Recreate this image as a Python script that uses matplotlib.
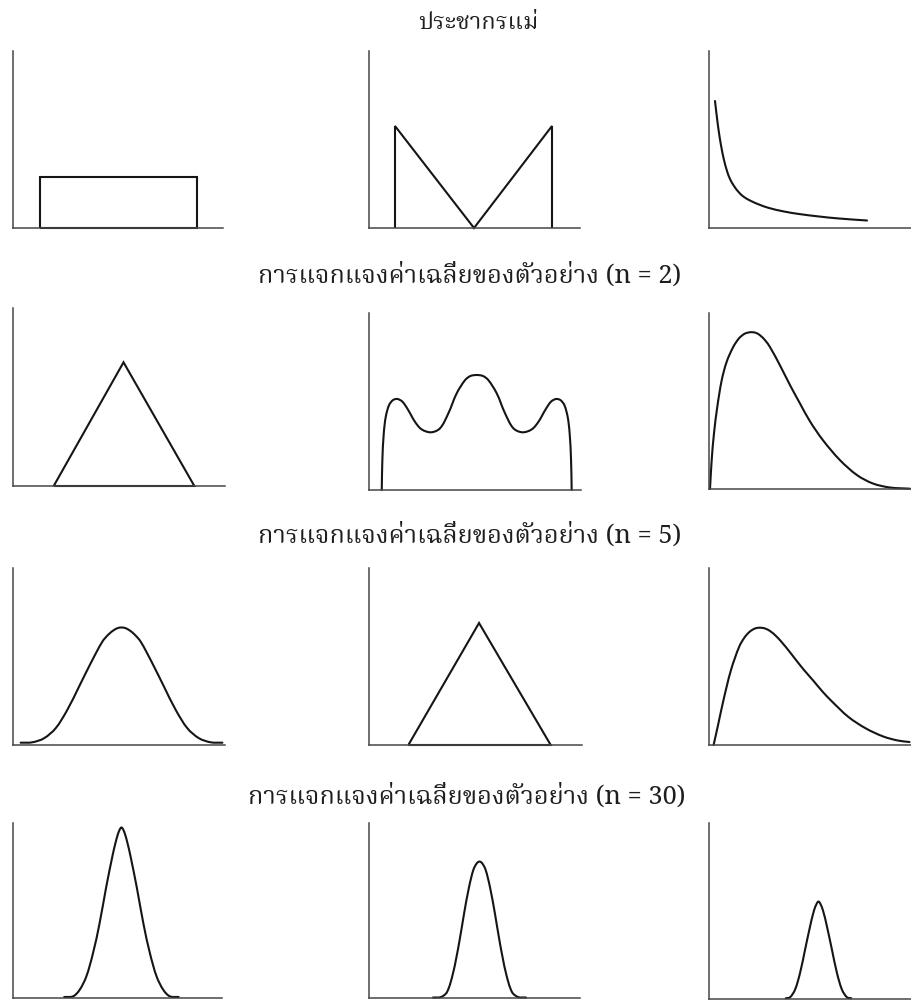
import numpy as np
import matplotlib
matplotlib.use("Agg")
import matplotlib.pyplot as plt
from matplotlib import font_manager, ft2font
from matplotlib.path import Path
from matplotlib.patches import PathPatch

# ---------------------------------------------------------------------------
# Titles
# ---------------------------------------------------------------------------
row_titles = [
    "ประชากรแม่",
    "การแจกแจงค่าเฉลี่ยของตัวอย่าง (n = 2)",
    "การแจกแจงค่าเฉลี่ยของตัวอย่าง (n = 5)",
    "การแจกแจงค่าเฉลี่ยของตัวอย่าง (n = 30)",
]

# ---------------------------------------------------------------------------
# Curves (x, density) in panel units: x 0..211, density 0..177
# ---------------------------------------------------------------------------
# Row 1: parent populations
uniform_x = [27, 27, 185, 185, 27]
uniform_y = [0, 51, 51, 0, 0]

vshape_x = [26, 26, 105, 183, 183]
vshape_y = [0, 102, 0, 102, 0]

exp_x = [6, 8, 10, 12.5, 15, 18, 21, 25, 30, 35, 42, 50, 60, 75, 90, 110, 130, 158]
exp_y = [127, 110, 95, 80, 68, 57, 49, 42, 35.5, 31, 27, 23.5, 20, 16.5, 14, 11.5, 9.5, 7.5]

# Row 2: n = 2
tri2_x = [40.5, 110, 180.5, 40.5]
tri2_y = [0, 123, 0, 0]

wave2_x = [12.7, 13.3, 14.7, 16.7, 20, 24, 28.3, 33.3, 39, 45.7, 52.3, 61.7, 70.7,
           79, 87.3, 95.7, 101, 107.2, 113.4, 118.7, 127.1, 135.4, 143.7, 152.7,
           162.1, 168.7, 175.4, 181.1, 186.1, 190.4, 194.4, 197.7, 199.7, 201.1, 201.7]
wave2_y = [0, 30, 56.7, 73.3, 85, 90, 91, 88.3, 80, 68.3, 60.7, 57.7, 61.7,
           76.7, 96.7, 110, 114, 115, 114, 110, 96.7, 76.7, 61.7, 57.7,
           60.7, 68.3, 80, 88.3, 91, 90, 85, 73.3, 56.7, 30, 0]

skew2_x = [1, 2.7, 5, 8.3, 12.7, 17.7, 24.3, 30, 35, 39, 42.7, 47, 51, 56, 61, 71, 81,
           91, 101, 114, 131, 148, 164, 181, 201]
skew2_y = [0, 29.3, 56, 82.7, 109.3, 128, 143, 151.5, 155.8, 157.3, 157.7, 157, 154.6,
           149.7, 142.7, 124.3, 104.5, 86, 68, 49, 29, 14, 5.5, 1.5, 0.3]

# Row 3: n = 5
bell5_x = [7.6, 19.2, 30.8, 42.4, 54, 65.7, 77.3, 88.9, 95, 100.5, 104.5, 108,
           111.5, 115.5, 121, 127.1, 138.7, 150.3, 162, 173.6, 185.2, 196.8, 208.4]
bell5_y = [2.3, 2.7, 6.7, 16.7, 35, 58.3, 81.7, 103.3, 110.5, 115, 117, 117.5,
           117, 115, 110.5, 103.3, 81.7, 58.3, 35, 16.7, 6.7, 2.7, 2.3]

tri5_x = [39, 109, 180, 39]
tri5_y = [0, 122, 0, 0]

skew5_x = [4.6, 8.7, 14.5, 22, 30.2, 35.5, 40.7, 46, 51, 56, 61, 67, 73, 80, 87, 95,
           104.6, 113, 122, 139.5, 157, 174.3, 188.8, 200.5]
skew5_y = [0, 18.3, 45, 75, 98.3, 107.5, 113.3, 116.5, 117.3, 116.5, 114, 109, 102.5,
           94, 85, 75, 64, 54, 44.5, 28, 16.5, 8.5, 4.5, 3]

# Row 4: n = 30
bell30a_x = [51.7, 60.7, 67.3, 74, 80.7, 87.3, 94, 100.7, 103.5, 105.7, 107.8, 109.5,
             111.2, 113.3, 115.5, 118.3, 125, 131.7, 138.3, 145, 151.7, 158.3, 167.3]
bell30a_y = [1, 1.7, 8.3, 21.7, 45, 75, 111.7, 145, 157, 165, 170.5, 172.5,
             170.5, 165, 157, 145, 111.7, 75, 45, 21.7, 8.3, 1.7, 1]

bell30b_x = [64, 72, 78, 84, 90, 95, 100, 104.5, 108, 110.5, 113, 116.5, 121, 126,
             131, 137, 143, 149, 157]
bell30b_y = [0.5, 1, 6, 25, 55, 85, 112, 130, 136.5, 138, 136.5, 130, 112, 85,
             55, 25, 6, 1, 0.5]

bell30c_x = [76.7, 81, 86, 91, 96, 101, 105, 108, 109.5, 111, 114, 118, 123, 128,
             133, 138, 142.3]
bell30c_y = [0.7, 1.7, 9.3, 26, 49.3, 72.7, 89, 96.5, 98, 96.5, 89, 72.7, 49.3, 26,
             9.3, 1.7, 0.7]

# (xs, ys, drawn as smooth curve?)
panels = [
    [(uniform_x, uniform_y, False), (vshape_x, vshape_y, False), (exp_x, exp_y, True)],
    [(tri2_x, tri2_y, False), (wave2_x, wave2_y, True), (skew2_x, skew2_y, True)],
    [(bell5_x, bell5_y, True), (tri5_x, tri5_y, False), (skew5_x, skew5_y, True)],
    [(bell30a_x, bell30a_y, True), (bell30b_x, bell30b_y, True), (bell30c_x, bell30c_y, True)],
]

X_MAX, Y_MAX = 211, 177


def thai_families():
    """Installed families that carry Thai glyphs, serif faces first."""
    preferred = ["Noto Serif Thai", "Norasi", "Kinnari", "Laksaman", "TH Sarabun New",
                 "Sarabun", "Noto Sans Thai", "Garuda", "Loma", "Waree"]
    found = set()
    for entry in font_manager.fontManager.ttflist:
        try:
            cmap = ft2font.FT2Font(entry.fname).get_charmap()
        except Exception:
            continue
        if 0x0E01 in cmap:
            found.add(entry.name)
    return [f for f in preferred if f in found] + sorted(found - set(preferred))


def smooth_path(xs, ys, ax):
    """Cubic Bezier path through the points (chord-length Hermite tangents).

    Tangents are computed in display space so the curve is smooth on screen."""
    pts_data = np.column_stack([xs, ys]).astype(float)
    to_disp = ax.transData
    p = to_disp.transform(pts_data)
    n = len(p)
    t = np.concatenate([[0.0], np.cumsum(np.hypot(*np.diff(p, axis=0).T))])
    tang = np.zeros_like(p)
    for i in range(n):
        a, b = max(i - 1, 0), min(i + 1, n - 1)
        tang[i] = (p[b] - p[a]) / (t[b] - t[a])
    verts = [p[0]]
    codes = [Path.MOVETO]
    for i in range(n - 1):
        h = t[i + 1] - t[i]
        verts += [p[i] + tang[i] * h / 3, p[i + 1] - tang[i + 1] * h / 3, p[i + 1]]
        codes += [Path.CURVE4] * 3
    verts = to_disp.inverted().transform(np.array(verts))
    return Path(verts, codes)


title_family = thai_families() + ["DejaVu Serif", "DejaVu Sans"]

W, H = 911, 1000
fig = plt.figure(figsize=(W / 100, H / 100), dpi=100)
fig.patch.set_facecolor("white")

# panel boxes in pixels: (left, top, right, bottom)
boxes = [
    [(13, 51, 223, 228), (369, 51, 580, 228), (709, 51, 920, 228)],
    [(13, 308, 225, 486), (369, 313, 581, 490), (709, 313, 920, 489)],
    [(13, 568, 225, 745), (369, 568, 582, 745), (709, 568, 920, 745)],
    [(13, 823, 222, 998), (369, 823, 580, 998), (709, 823, 920, 999)],
]
title_pos = [(478, 23, 17), (470, 276, 18.3), (470, 536, 18.3), (467, 797, 18.3)]

line_color = "#151515"
for r in range(4):
    for c in range(3):
        x0, top, x1, bot = boxes[r][c]
        ax = fig.add_axes([x0 / W, 1 - bot / H, (x1 - x0) / W, (bot - top) / H])
        ax.set_xlim(0, X_MAX)
        ax.set_ylim(0, Y_MAX)
        for side in ("top", "right"):
            ax.spines[side].set_visible(False)
        for side in ("left", "bottom"):
            ax.spines[side].set_color("#474747")
            ax.spines[side].set_linewidth(1.1)
        ax.set_xticks([])
        ax.set_yticks([])
        xs, ys, smooth = panels[r][c]
        if smooth:
            patch = PathPatch(smooth_path(xs, ys, ax), facecolor="none",
                              edgecolor=line_color, lw=1.5, clip_on=False,
                              joinstyle="round", capstyle="round")
            ax.add_patch(patch)
        else:
            ax.plot(xs, ys, color=line_color, lw=1.5, clip_on=False,
                    solid_joinstyle="miter", solid_capstyle="butt")
    tx, ty, fs = title_pos[r]
    fig.text(tx / W, 1 - ty / H, row_titles[r], ha="center", va="center",
             fontsize=fs, color="#1e1e1e", family=title_family)

fig.savefig("out.png", dpi=100, facecolor="white")
